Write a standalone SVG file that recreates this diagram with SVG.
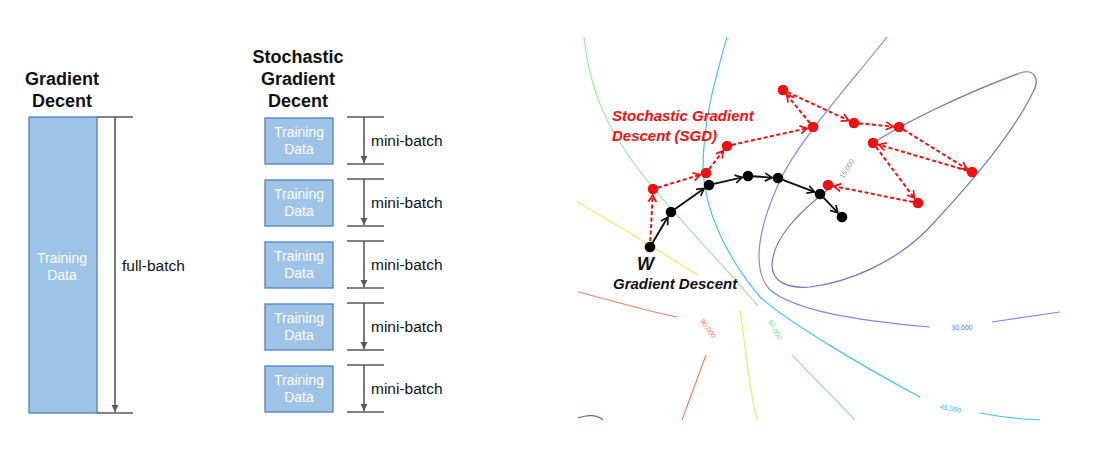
<svg xmlns="http://www.w3.org/2000/svg" width="1106" height="462" viewBox="0 0 1106 462">
<style>
.title{font-family:"Liberation Sans",Arial,sans-serif;font-weight:bold;font-size:18px;fill:#111;text-anchor:middle}
.box{fill:#9dc3e6;stroke:#4f81bd;stroke-width:1.3}
.boxt{font-family:"Liberation Sans",Arial,sans-serif;font-size:14px;fill:#fff;text-anchor:middle}
.brk{stroke:#595959;stroke-width:1.6;fill:none}
.lbl{font-family:"Liberation Sans",Arial,sans-serif;font-size:15.5px;fill:#111}
.ct{fill:none;stroke-width:1.2}
.cl{font-family:"Liberation Sans",Arial,sans-serif;font-size:7px;text-anchor:middle}
.sgd{stroke:#f01010;stroke-width:2;stroke-dasharray:4 2.5;fill:none}
.gd{stroke:#111;stroke-width:1.9;fill:none}
.rdot{fill:#f01010}
.bdot{fill:#000}
.it{font-family:"Liberation Sans",Arial,sans-serif;font-weight:bold;font-style:italic}
</style>
<defs>
<marker id="ga" markerUnits="userSpaceOnUse" markerWidth="10" markerHeight="10" viewBox="-8 -5 10 10" refX="0" refY="0" orient="auto">
<path d="M-7,-3.5 L0,0 L-7,3.5 z" fill="#595959"/>
</marker>
<marker id="ra" markerUnits="userSpaceOnUse" markerWidth="12" markerHeight="12" viewBox="-9 -6 12 12" refX="0" refY="0" orient="auto">
<path d="M-7,-4 L0,0 L-7,4" fill="none" stroke="#f01010" stroke-width="1.7"/>
</marker>
<marker id="ka" markerUnits="userSpaceOnUse" markerWidth="12" markerHeight="12" viewBox="-9 -6 12 12" refX="0" refY="0" orient="auto">
<path d="M-7,-4 L0,0 L-7,4" fill="none" stroke="#111" stroke-width="1.7"/>
</marker>
</defs>
<rect width="1106" height="462" fill="#fff"/>

<!-- Left: Gradient Decent -->
<g id="gd-panel">
<text class="title" x="62" y="85">Gradient</text>
<text class="title" x="62" y="107">Decent</text>
<rect class="box" x="29" y="117" width="68" height="296"/>
<text class="boxt" x="62" y="263">Training</text>
<text class="boxt" x="62" y="280">Data</text>
<line class="brk" x1="97" y1="117" x2="133" y2="117"/>
<line class="brk" x1="97" y1="413" x2="133" y2="413"/>
<line class="brk" x1="115" y1="117" x2="115" y2="412" marker-end="url(#ga)"/>
<text class="lbl" x="122" y="271">full-batch</text>
</g>

<!-- Middle: SGD -->
<g id="sgd-panel">
<text class="title" x="298" y="63">Stochastic</text>
<text class="title" x="298" y="85">Gradient</text>
<text class="title" x="298" y="107">Decent</text>
</g>
<g id="mb1">
<rect class="box" x="265" y="118" width="68" height="46"/>
<text class="boxt" x="299" y="137">Training</text>
<text class="boxt" x="299" y="154">Data</text>
<line class="brk" x1="347" y1="117" x2="384" y2="117"/>
<line class="brk" x1="347" y1="164" x2="384" y2="164"/>
<line class="brk" x1="364" y1="117" x2="364" y2="163" marker-end="url(#ga)"/>
<text class="lbl" x="371" y="146">mini-batch</text>
</g>
<g id="mb2">
<rect class="box" x="265" y="180" width="68" height="46"/>
<text class="boxt" x="299" y="199">Training</text>
<text class="boxt" x="299" y="216">Data</text>
<line class="brk" x1="347" y1="179" x2="384" y2="179"/>
<line class="brk" x1="347" y1="226" x2="384" y2="226"/>
<line class="brk" x1="364" y1="179" x2="364" y2="225" marker-end="url(#ga)"/>
<text class="lbl" x="371" y="208">mini-batch</text>
</g>
<g id="mb3">
<rect class="box" x="265" y="242" width="68" height="46"/>
<text class="boxt" x="299" y="261">Training</text>
<text class="boxt" x="299" y="278">Data</text>
<line class="brk" x1="347" y1="241" x2="384" y2="241"/>
<line class="brk" x1="347" y1="288" x2="384" y2="288"/>
<line class="brk" x1="364" y1="241" x2="364" y2="287" marker-end="url(#ga)"/>
<text class="lbl" x="371" y="270">mini-batch</text>
</g>
<g id="mb4">
<rect class="box" x="265" y="304" width="68" height="46"/>
<text class="boxt" x="299" y="323">Training</text>
<text class="boxt" x="299" y="340">Data</text>
<line class="brk" x1="347" y1="303" x2="384" y2="303"/>
<line class="brk" x1="347" y1="350" x2="384" y2="350"/>
<line class="brk" x1="364" y1="303" x2="364" y2="349" marker-end="url(#ga)"/>
<text class="lbl" x="371" y="332">mini-batch</text>
</g>
<g id="mb5">
<rect class="box" x="265" y="366" width="68" height="46"/>
<text class="boxt" x="299" y="385">Training</text>
<text class="boxt" x="299" y="402">Data</text>
<line class="brk" x1="347" y1="365" x2="384" y2="365"/>
<line class="brk" x1="347" y1="412" x2="384" y2="412"/>
<line class="brk" x1="364" y1="365" x2="364" y2="411" marker-end="url(#ga)"/>
<text class="lbl" x="371" y="394">mini-batch</text>
</g>

<!-- Right: contour plot -->
<g id="contours">
<path class="ct" stroke="#a0e8a0" d="M584,37 C588,75 600,115 625,150 C650,190 710,250 758,306"/>
<path class="ct" stroke="#a0e8a0" d="M792,355 L855,420"/>
<text class="cl" fill="#70dd90" transform="translate(773,331) rotate(60)">60,000</text>
<path class="ct" stroke="#f0ea6a" d="M577,202 C610,220 660,252 698,275"/>
<path class="ct" stroke="#f0ea6a" d="M740,310 C745,340 748,385 757,420"/>
<path class="ct" stroke="#40c8ec" d="M727,37 C715,80 703,120 703,170 C705,210 725,255 760,297 C785,320 860,365 920,397"/>
<path class="ct" stroke="#40c8ec" d="M980,413 C1000,417 1020,419 1040,420"/>
<text class="cl" fill="#30bce0" transform="translate(950,411) rotate(12)">45,000</text>
<path class="ct" stroke="#7c8ce6" d="M887,37 C845,90 795,145 778,185 C760,225 750,268 770,290 C795,310 850,320 930,327"/>
<path class="ct" stroke="#7c8ce6" d="M992,322 L1060,312"/>
<text class="cl" fill="#5a6ae0" transform="translate(962,330) rotate(-2)">30,000</text>
<path class="ct" stroke="#7676b6" d="M870,145 C900,125 960,95 1020,73 C1035,68 1040,80 1033,92 C1010,140 960,195 927,230 C895,262 850,282 810,287 C785,289 772,280 772,265 C773,240 795,215 830,188"/>
<text class="cl" fill="#8a8acc" transform="translate(849,170) rotate(-58)">15,000</text>
<path class="ct" stroke="#f08070" d="M578,292 C610,300 650,312 677,317"/>
<path class="ct" stroke="#f08070" d="M706,355 L682,420"/>
<text class="cl" fill="#ee7766" transform="translate(706,330) rotate(55)">90,000</text>
<path class="ct" stroke="#a05075" d="M578,418 C588,414 598,415 603,420"/>
</g>

<g id="connectors">
<line class="sgd" x1="650.3" y1="241" x2="652.7" y2="195" marker-end="url(#ra)"/>
<line class="sgd" x1="657.8" y1="187.6" x2="700.3" y2="174.7" marker-end="url(#ra)"/>
<line class="sgd" x1="709.1" y1="169.1" x2="723.3" y2="150.7" marker-end="url(#ra)"/>
<line class="sgd" x1="731.9" y1="144.9" x2="807.1" y2="128.3" marker-end="url(#ra)"/>
<line class="sgd" x1="809.8" y1="123.1" x2="786.8" y2="94.7" marker-end="url(#ra)"/>
<line class="sgd" x1="787.5" y1="92.1" x2="848.6" y2="120.5" marker-end="url(#ra)"/>
<line class="sgd" x1="859" y1="123.4" x2="893" y2="126.5" marker-end="url(#ra)"/>
<line class="sgd" x1="903.3" y1="129.6" x2="966.9" y2="168.9" marker-end="url(#ra)"/>
<line class="sgd" x1="967.2" y1="170.6" x2="878.8" y2="144.7" marker-end="url(#ra)"/>
<line class="sgd" x1="876" y1="147" x2="914.4" y2="198.2" marker-end="url(#ra)"/>
<line class="sgd" x1="913.1" y1="202" x2="833.9" y2="186.2" marker-end="url(#ra)"/>
<line class="gd" x1="652.6" y1="242.7" x2="667.9" y2="217.1" marker-end="url(#ka)"/>
<line class="gd" x1="675.1" y1="209.1" x2="704.1" y2="188.5" marker-end="url(#ka)"/>
<line class="gd" x1="713.9" y1="183.9" x2="742.2" y2="177.4" marker-end="url(#ka)"/>
<line class="gd" x1="753" y1="176.3" x2="772" y2="177.6" marker-end="url(#ka)"/>
<line class="gd" x1="782.7" y1="179.8" x2="814.4" y2="191.9" marker-end="url(#ka)"/>
<line class="gd" x1="823.5" y1="197.6" x2="837.8" y2="212.7" marker-end="url(#ka)"/>
</g>

<g id="sgd-points">
<circle class="rdot" cx="653" cy="189" r="5.3"/>
<circle class="rdot" cx="706" cy="173" r="5.3"/>
<circle class="rdot" cx="727" cy="146" r="5.3"/>
<circle class="rdot" cx="813" cy="127" r="5.3"/>
<circle class="rdot" cx="783" cy="90" r="5.3"/>
<circle class="rdot" cx="854" cy="123" r="5.3"/>
<circle class="rdot" cx="899" cy="127" r="5.3"/>
<circle class="rdot" cx="972" cy="172" r="5.3"/>
<circle class="rdot" cx="873" cy="143" r="5.3"/>
<circle class="rdot" cx="918" cy="203" r="5.3"/>
<circle class="rdot" cx="828" cy="185" r="5.3"/>
</g>
<g id="gd-points">
<circle class="bdot" cx="650" cy="247" r="5.3"/>
<circle class="bdot" cx="671" cy="212" r="5.3"/>
<circle class="bdot" cx="709" cy="185" r="5.3"/>
<circle class="bdot" cx="748" cy="176" r="5.3"/>
<circle class="bdot" cx="778" cy="178" r="5.3"/>
<circle class="bdot" cx="820" cy="194" r="5.3"/>
<circle class="bdot" cx="842" cy="217" r="5.3"/>
</g>
<g id="labels">
<text class="it" x="612" y="121" font-size="15" fill="#f01010">Stochastic Gradient</text>
<text class="it" x="612" y="141" font-size="15" fill="#f01010">Descent (SGD)</text>
<text class="it" x="637" y="270" font-size="18" fill="#111">W</text>
<text class="it" x="613" y="289" font-size="15" fill="#111">Gradient Descent</text>
</g>
</svg>
